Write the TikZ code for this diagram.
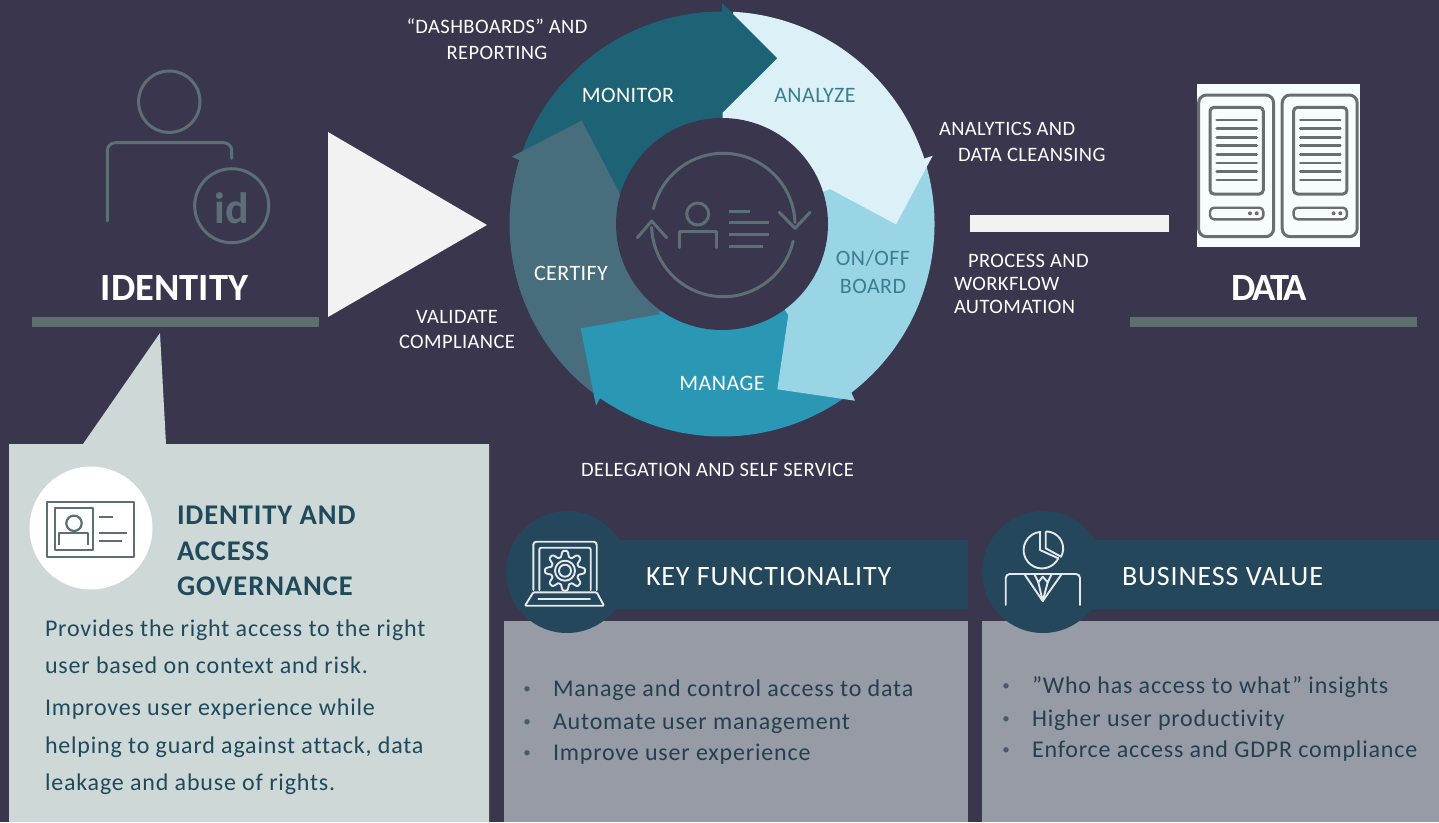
\documentclass[tikz,border=0pt]{standalone}
\usepackage{fontspec}
\setmainfont{Carlito}
\newfontfamily\spaced{Carlito}[LetterSpace=3.4,Ligatures=NoCommon]
\newfontfamily\slight{Carlito}[LetterSpace=2,Ligatures=NoCommon]
\newfontfamily\wide{Carlito}[LetterSpace=3.2,Ligatures=NoCommon]
\newfontfamily\tight{Carlito}[LetterSpace=-6.5]
\usetikzlibrary{calc}
\definecolor{bgc}{HTML}{3A364E}
\definecolor{monc}{HTML}{1E6375}
\definecolor{anac}{HTML}{DCF0F7}
\definecolor{onc}{HTML}{9AD5E5}
\definecolor{manc}{HTML}{2A97B4}
\definecolor{cerc}{HTML}{486E7E}
\definecolor{ringtx}{HTML}{3A7F90}
\definecolor{iconc}{HTML}{5B6F75}
\definecolor{panelc}{HTML}{CED8D7}
\definecolor{grayc}{HTML}{979BA5}
\definecolor{headc}{HTML}{24475C}
\definecolor{darktx}{HTML}{1F4A5C}
\definecolor{bultx}{HTML}{24404F}
\definecolor{lightc}{HTML}{F2F2F2}
\definecolor{barc}{HTML}{5F6F6F}
\definecolor{srvc}{HTML}{6A6E72}
\tikzset{
  x=1pt,y=1pt,
  txt/.style={inner sep=0pt,outer sep=0pt,anchor=base,text=white},
  txtw/.style={txt,anchor=base west},
  annot/.style={font=\slight\fontsize{20.5}{22}\selectfont},
  ringl/.style={font=\slight\fontsize{22}{24}\selectfont},
  bigl/.style={font=\bfseries\fontsize{38.5}{42}\selectfont},
  hdr/.style={font=\wide\fontsize{28}{30}\selectfont},
  pbold/.style={txtw,text=darktx,font=\wide\bfseries\fontsize{28.5}{30}\selectfont},
  pbody/.style={txtw,text=darktx,font=\spaced\fontsize{24}{28}\selectfont},
  bul/.style={txtw,text=bultx,font=\spaced\fontsize{24}{28}\selectfont},
  buld/.style={txt,text=bultx!70!grayc,font=\fontsize{15}{16}\selectfont},
  ico/.style={draw=iconc,line width=3pt,line cap=round,line join=round},
  idc/.style={draw=iconc,line width=2.2pt,line join=round},
  wic/.style={draw=white!88!headc,line width=1.9pt,line join=round,line cap=round},
  srv/.style={draw=srvc,line width=3pt,rounded corners=4pt},
  srl/.style={draw=srvc,line width=2.6pt,line cap=round},
}
\begin{document}
\begin{tikzpicture}
\useasboundingbox (0,0) rectangle (1439,-822);
\fill[bgc] (0,0) rectangle (1439,-822);
\coordinate (C) at (722,-224);
% ring
\fill[monc] ($(C)+(165:212.5pt)$) arc[start angle=165,end angle=90,radius=212.5pt] -- (722.3,-3.3) -- (777.3,-58.3) -- (722.7,-112.7) -- (722.7,-118) -- ($(C)+(170:106pt)$) -- cycle;
\fill[cerc] (511.7,-156.7) -- (581.7,-120.7) -- (618.3,-190.7) -- ($(C)+(240:106pt)$) -- ($(C)+(238:212.5pt)$) arc[start angle=238,end angle=162.5,radius=212.5pt] -- cycle;
\fill[manc] (596,-405.7) -- (580.7,-328.3) -- (660,-314.3) -- (658.3,-311.7) -- ($(C)+(310:106pt)$) -- ($(C)+(310:212.5pt)$) arc[start angle=310,end angle=235,radius=212.5pt] -- cycle;
\fill[onc] ($(C)+(20:212.5pt)$) arc[start angle=20,end angle=-52.5,radius=212.5pt] -- (855,-400.7) -- (777.3,-389.3) -- (788.3,-315) -- (785,-310) -- ($(C)+(20:106pt)$) -- cycle;
\fill[anac] (733.3,-14.3) -- ($(C)+(87:212.5pt)$) arc[start angle=87,end angle=17.9,radius=212.5pt] -- (932.7,-155.7) -- (896,-224.3) -- (830,-189) -- (823.3,-191.7) -- (722.7,-118) -- (722.7,-112.7) -- (777.3,-58.3) -- cycle;
\fill[bgc] (C) circle[radius=106pt];
% centre icon
\draw[ico] ($(723.3,-225)+(167:71.7pt)$) arc[start angle=167,end angle=2,radius=71.7pt];
\draw[ico] ($(723.3,-225)+(-13:71.7pt)$) arc[start angle=-13,end angle=-178,radius=71.7pt];
\draw[ico] (779.3,-212.3) -- (795,-228.3) -- (810,-212.3);
\draw[ico] (637.3,-237.7) -- (651.7,-221) -- (666.7,-237.7);
\draw[ico] (697.7,-214) circle[radius=11pt];
\draw[ico] (679,-247.7) -- (679,-231) -- (716.7,-231) -- (716.7,-247.7);
\draw[ico,line cap=butt] (729.3,-211) -- (750,-211) (729.3,-222.3) -- (769,-222.3) (729.3,-234) -- (769,-234) (729.3,-246) -- (762.7,-246);
% ring text
\node[txt,ringl] (monitor) at (628,-102) {MONITOR};
\node[txt,ringl,text=ringtx] (analyze) at (815,-102) {ANALYZE};
\node[txt,ringl,text=ringtx] (onoff) at (873,-265) {ON/OFF};
\node[txt,ringl,text=ringtx] (board) at (873,-293) {BOARD};
\node[txt,ringl] (manage) at (722,-390) {MANAGE};
\node[txt,ringl] (certify) at (571,-280) {CERTIFY};
% annotations
\node[txt,annot] (dash) at (497,-33) {“DASHBOARDS” AND};
\node[txt,annot] (rep) at (497,-59) {REPORTING};
\node[txtw,annot] (ana1) at (939,-135) {ANALYTICS AND};
\node[txtw,annot] (ana2) at (958,-161) {DATA CLEANSING};
\node[txtw,annot] (proc1) at (968,-267) {PROCESS AND};
\node[txtw,annot] (proc2) at (954,-290) {WORKFLOW};
\node[txtw,annot] (proc3) at (954,-313) {AUTOMATION};
\node[txt,annot] (val1) at (457,-323) {VALIDATE};
\node[txt,annot] (val2) at (457,-348) {COMPLIANCE};
\node[txt,annot] (deleg) at (717.5,-476) {DELEGATION AND SELF SERVICE};
% identity icon
\draw[ico] (169.3,-101.7) circle[radius=30.7pt];
\draw[ico,rounded corners=8pt] (107.3,-221) -- (107.3,-142.7) -- (231.7,-142.7) -- (231.7,-158.3);
\draw[ico] (231.7,-205.7) circle[radius=37pt];
\node[txt,text=iconc,font=\bfseries\fontsize{44}{46}\selectfont] (idtxt) at (231.7,-223) {id};
\node[txt,bigl] (identity) at (174.5,-300) {IDENTITY};
\fill[barc] (32,-317) rectangle (319,-327);
% triangle and bar
\fill[lightc] (328,-132) -- (487,-225) -- (328,-317) -- cycle;
\fill[lightc] (970,-215) rectangle (1169,-232);
% data
\fill[white!97!cyan] (1197.3,-84) rectangle (1360,-246.7);
\foreach \dx in {0,83.6}{
  \draw[srv,rounded corners=8pt,shift={(\dx,0)}] (1198.6,-95) rectangle (1273.6,-236.7);
  \draw[srv,shift={(\dx,0)}] (1210,-107.3) rectangle (1263.3,-194);
  \foreach \yy in {120,128.7,137.3,145.7,154.3,163,171.7,180}{
    \draw[srl,shift={(\dx,0)}] (1216.7,-\yy) -- (1256.7,-\yy);
  }
  \draw[srv,line width=2.4pt,shift={(\dx,0)}] (1210,-207.7) rectangle (1263.3,-219.3);
  \fill[srvc,shift={(\dx,0)}] (1250,-213.3) circle[radius=2pt] (1256.7,-213.3) circle[radius=2pt];
}
\node[txt,bigl,font=\tight\bfseries\fontsize{38.5}{42}\selectfont] (data) at (1269.5,-300) {DATA};
\fill[barc] (1130,-317) rectangle (1417,-327);
% callout
\fill[panelc] (9,-444) -- (83,-444) -- (160,-333) -- (166,-444) -- (489,-444) -- (489,-822) -- (9,-822) -- cycle;
\fill[white] (91,-528) circle[radius=61.5pt];
\draw[idc] (47.3,-501.7) rectangle (134,-557.3);
\draw[idc] (55,-508.3) rectangle (92.7,-550);
\draw[idc] (74,-523.3) circle[radius=7.7pt];
\draw[idc] (59.3,-545) -- (59.3,-533.3) -- (88.3,-533.3) -- (88.3,-545);
\draw[idc] (99.3,-517.3) -- (112.7,-517.3) (99.3,-532.7) -- (126.7,-532.7) (99.3,-541) -- (121.7,-541);
\node[pbold] (iag1) at (177,-524) {IDENTITY AND};
\node[pbold] (iag2) at (177,-560) {ACCESS};
\node[pbold] (iag3) at (177,-595) {GOVERNANCE};
\node[pbody] (b1) at (45,-636) {Provides the right access to the right};
\node[pbody] (b2) at (45,-673) {user based on context and risk.};
\node[pbody] (b3) at (45,-715) {Improves user experience while};
\node[pbody] (b4) at (45,-753) {helping to guard against attack, data};
\node[pbody] (b5) at (45,-790) {leakage and abuse of rights.};
% key functionality
\fill[grayc] (504,-621) rectangle (968,-822);
\fill[headc] (600,-540) rectangle (968,-608.5);
\fill[headc] (567,-572) circle[radius=61pt];
\draw[wic,rounded corners=3pt] (533.3,-590) -- (533.3,-541.7) -- (596.7,-541.7) -- (596.7,-590);
\draw[wic,rounded corners=2pt] (539.3,-590) -- (539.3,-547.7) -- (590.7,-547.7) -- (590.7,-590);
\draw[wic,rounded corners=1pt] (525,-605.7) -- (533.3,-592.3) -- (596.7,-592.3) -- (604,-605.7) -- cycle;
\draw[wic] (538.3,-599.3) -- (590,-599.3);
\draw[wic,shift={(565,-570.7)}] plot[samples=145,domain=0:360] (\x:{(17+3.4*(cos(8*\x)-0.15*cos(24*\x)))*1pt}) -- cycle;
\draw[wic] (565,-570.7) circle[radius=10pt] (565,-570.7) circle[radius=6pt];
\node[txtw,hdr] (kf) at (646,-585) {KEY FUNCTIONALITY};
\node[buld] (kb1) at (527,-693) {•};
\node[bul] (k1) at (553,-696) {Manage and control access to data};
\node[buld] (kb2) at (527,-726) {•};
\node[bul] (k2) at (553,-729) {Automate user management};
\node[buld] (kb3) at (527,-757) {•};
\node[bul] (k3) at (553,-760) {Improve user experience};
% business value
\fill[grayc] (982,-621) rectangle (1439,-822);
\fill[headc] (1080,-540) rectangle (1439,-608.5);
\fill[headc] (1043,-572) circle[radius=61pt];
\draw[wic] (1040,-532.3) -- (1040,-550) -- (1058.3,-558.3) arc[start angle=-26.6,end angle=-265,radius=18.3pt];
\draw[wic] (1045.7,-532.3) -- (1045.7,-548.3) -- (1061,-556.7) arc[start angle=-29,end angle=90,radius=17pt];
\draw[wic,rounded corners=4pt] (1005.7,-605) -- (1005.7,-574) -- (1080,-574) -- (1080,-605);
\draw[wic] (1024.3,-574) -- (1042.7,-601) -- (1061.7,-574);
\draw[wic] (1034.3,-574) -- (1038.3,-582.3) -- (1042.7,-576.7) -- (1047.7,-582.3) -- (1051.7,-574);
\draw[wic] (1038.3,-582.3) -- (1042.7,-601) -- (1047.7,-582.3);
\node[txtw,hdr] (bv) at (1122,-585) {BUSINESS VALUE};
\node[buld] (vb1) at (1006,-690) {•};
\node[bul] (v1) at (1032,-693) {”Who has access to what” insights};
\node[buld] (vb2) at (1006,-723) {•};
\node[bul] (v2) at (1032,-726) {Higher user productivity};
\node[buld] (vb3) at (1006,-754) {•};
\node[bul] (v3) at (1032,-757) {Enforce access and GDPR compliance};
\end{tikzpicture}
\end{document}
